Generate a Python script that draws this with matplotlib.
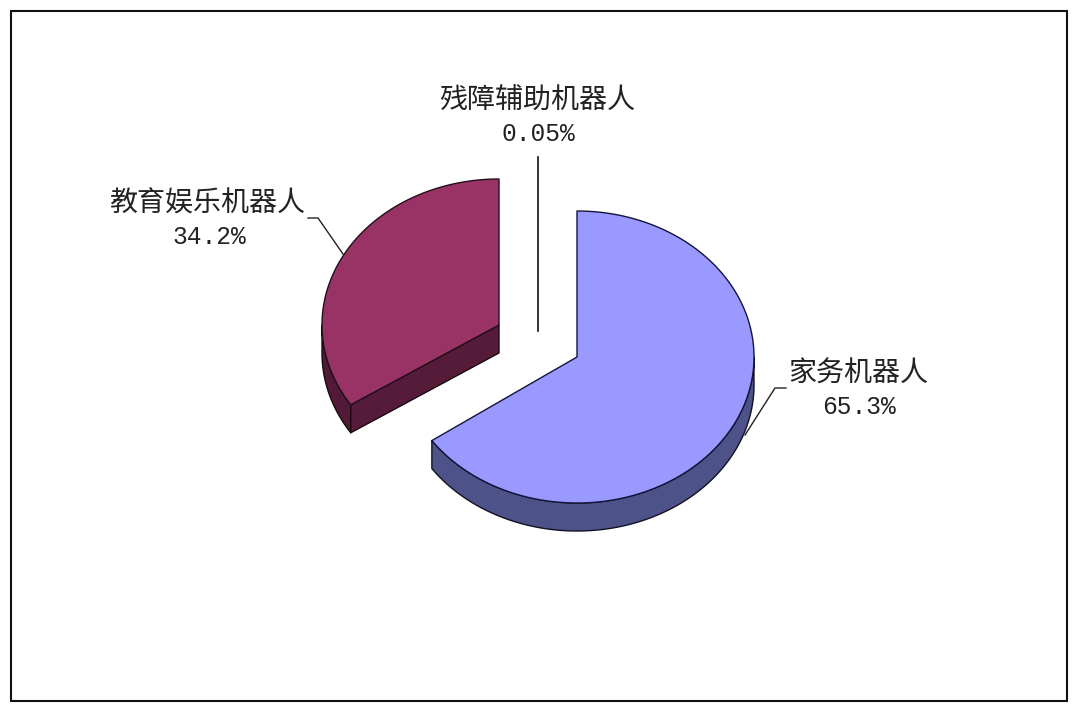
import numpy as np
import matplotlib
matplotlib.use('Agg')
import matplotlib.pyplot as plt
from matplotlib.patches import Polygon, Rectangle

plt.rcParams['font.family'] = ['Noto Sans CJK SC', 'DejaVu Sans']

# shares as printed on the chart
names = ['家务机器人', '教育娱乐机器人', '残障辅助机器人']
shares = [65.3, 34.2, 0.05]
share_labels = ['65.3%', '34.2%', '0.05%']

# pie geometry in image pixels
RX, RY, DEPTH = 177, 146, 28
blue_c = (577, 357)
red_c = (499, 325)


def rim(c, a0, a1, dy=0):
    # angles clockwise from 12 o'clock, squashed circle
    t = np.radians(np.linspace(a0, a1, 200))
    return np.column_stack([c[0] + RX * np.sin(t), c[1] - RY * np.cos(t) + dy])


fig = plt.figure(figsize=(10.8, 7.12), dpi=100)
ax = fig.add_axes([0, 0, 1, 1])
ax.set_xlim(0, 1080)
ax.set_ylim(712, 0)
ax.axis('off')

ax.add_patch(Rectangle((11, 11), 1056, 690, fc='white', ec='#111111', lw=1.5))

blue_ang = 360 * shares[0] / 100
red_ang = 360 * shares[1] / 100
edge = '#14143c'

# blue slice, clockwise from the top
side = np.vstack([rim(blue_c, 90, blue_ang), rim(blue_c, blue_ang, 90, DEPTH)])
ax.add_patch(Polygon(side, fc='#4d5288', ec='#111122', lw=1.0, joinstyle='round'))
top = np.vstack([[blue_c], rim(blue_c, 0, blue_ang)])
ax.add_patch(Polygon(top, fc='#9999ff', ec=edge, lw=1.0, joinstyle='round'))

# red slice, counter clockwise from the top
tip = rim(red_c, 360 - red_ang, 360 - red_ang)[0]
side = np.vstack([rim(red_c, 270, 360 - red_ang), rim(red_c, 360 - red_ang, 270, DEPTH)])
ax.add_patch(Polygon(side, fc='#521a38', ec='#1a0a12', lw=1.0, joinstyle='round'))
cut = [red_c, tip, (tip[0], tip[1] + DEPTH), (red_c[0], red_c[1] + DEPTH)]
ax.add_patch(Polygon(cut, fc='#571b3a', ec='#1a0a12', lw=1.0, joinstyle='round'))
top = np.vstack([[red_c], rim(red_c, 360 - red_ang, 360)])
ax.add_patch(Polygon(top, fc='#993366', ec='#220f1c', lw=1.0, joinstyle='round'))

# leader lines
ax.plot([538, 538], [157, 331], color='#111111', lw=1.2)
ax.plot([308, 318, 343], [218, 218, 254], color='#222222', lw=1.0)
ax.plot([786, 775, 745], [388, 388, 435], color='#222222', lw=1.0)

# labels
label_pos = [(858, 374), (207, 204), (537, 101)]
value_pos = [(859, 407), (209, 237), (538, 134)]
for name, val, p, q in zip(names, share_labels, label_pos, value_pos):
    ax.text(p[0], p[1], name, ha='center', va='center', fontsize=20.2,
            fontweight='light', color='#222222')
    ax.text(q[0], q[1], val, ha='center', va='center', fontsize=17.7,
            family='Liberation Mono', color='#222222')

fig.savefig('out.png', dpi=100, facecolor='white')
